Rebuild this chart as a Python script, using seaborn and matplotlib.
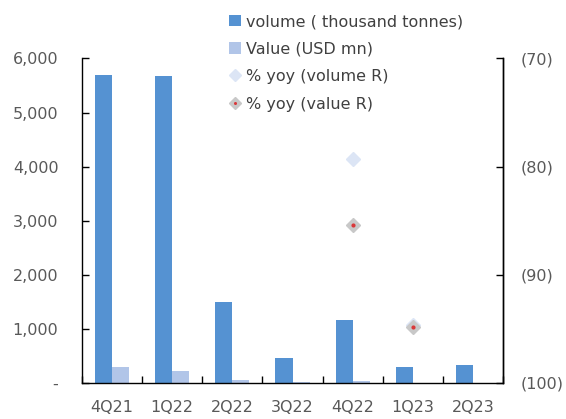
import numpy as np
import pandas as pd
import matplotlib
matplotlib.use("Agg")
import matplotlib.pyplot as plt
import matplotlib.ticker as mticker
from matplotlib.lines import Line2D
from matplotlib.patches import Patch
from matplotlib.legend_handler import HandlerTuple
import seaborn as sns

# Quarterly volume / value with year-on-year change
quarters = ["4Q21", "1Q22", "2Q22", "3Q22", "4Q22", "1Q23", "2Q23"]
volume = [5700, 5670, 1500, 455, 1167, 300, 330]          # thousand tonnes
value = [300, 222, 55, 15, 35, 3, 2]                      # USD mn
yoy_volume = [np.nan, np.nan, np.nan, np.nan, -79.3, -94.6, np.nan]
yoy_value = [np.nan, np.nan, np.nan, np.nan, -85.4, -94.8, np.nan]

lbl_vol = "volume ( thousand tonnes)"
lbl_val = "Value (USD mn)"
lbl_yoy_vol = "% yoy (volume R)"
lbl_yoy_val = "% yoy (value R)"

c_vol = "#5592D2"
c_val = "#B1C5E8"
c_yoy_vol = "#DCE5F5"
c_yoy_val_edge = "#C8C8C8"
c_yoy_val_dot = "#D9383A"
c_text = "#595959"

sns.set_theme(style="white")
plt.rcParams["font.family"] = ["DejaVu Sans"]
plt.rcParams["font.size"] = 11.5

df = pd.DataFrame({
    "quarter": quarters * 2,
    "amount": volume + value,
    "series": [lbl_vol] * len(quarters) + [lbl_val] * len(quarters),
})

fig = plt.figure(figsize=(5.66, 4.19), dpi=100)
ax = fig.add_axes([82 / 566, 1 - 383 / 419, (503 - 82) / 566, (383 - 58.5) / 419])

sns.barplot(data=df, x="quarter", y="amount", hue="series", order=quarters,
            palette=[c_vol, c_val], width=0.567, gap=0, saturation=1,
            linewidth=0, ax=ax, legend=False)

ax.set_xlim(-0.5, len(quarters) - 0.5)
ax.set_ylim(0, 6000)
ax.set_yticks(np.arange(0, 6001, 1000))
ax.yaxis.set_major_formatter(mticker.FuncFormatter(
    lambda v, p: "-" if v == 0 else f"{v:,.0f}"))
ax.set_xlabel("")
ax.set_ylabel("")

# category boundary ticks on the x axis
ax.set_xticks(np.arange(len(quarters)))
ax.set_xticklabels(quarters)
ax.set_xticks(np.arange(-0.5, len(quarters) + 0.5, 1), minor=True)
ax.tick_params(axis="x", which="major", length=0, pad=12.5, colors=c_text, labelsize=11.5)
ax.tick_params(axis="x", which="minor", direction="in", length=5, width=1,
               color="black", bottom=True)
ax.tick_params(axis="y", which="major", direction="in", length=5, width=1,
               color="black", pad=17, labelcolor=c_text, labelsize=11.5,
               left=True, right=False)

for s in ["left", "bottom", "right"]:
    ax.spines[s].set_visible(True)
    ax.spines[s].set_color("black")
    ax.spines[s].set_linewidth(1)
ax.spines["top"].set_visible(False)

ax2 = ax.twinx()
xpos = np.arange(len(quarters))
ax2.plot(xpos, yoy_volume, linestyle="none", marker="D", markersize=7.5,
         markerfacecolor=c_yoy_vol, markeredgecolor=c_yoy_vol)
ax2.plot(xpos, yoy_value, linestyle="none", marker="D", markersize=7,
         markerfacecolor=c_yoy_val_edge, markeredgecolor=c_yoy_val_edge)
ax2.plot(xpos, yoy_value, linestyle="none", marker="o", markersize=3,
         markerfacecolor=c_yoy_val_dot, markeredgecolor="none")
ax2.set_ylim(-100, -70)
ax2.set_yticks([-100, -90, -80, -70])
ax2.yaxis.set_major_formatter(mticker.FuncFormatter(lambda v, p: f"({abs(v):.0f})"))
ax2.tick_params(axis="y", which="major", direction="in", length=5, width=1,
                color="black", pad=13, labelcolor=c_text, labelsize=11.5,
                right=True, left=False)
for s in ["top", "left", "bottom"]:
    ax2.spines[s].set_visible(False)
ax2.spines["right"].set_color("black")
ax2.spines["right"].set_linewidth(1)
ax2.grid(False)
ax.grid(False)

handles = [
    Patch(facecolor=c_vol, edgecolor="none"),
    Patch(facecolor=c_val, edgecolor="none"),
    Line2D([], [], linestyle="none", marker="D", markersize=6,
           markerfacecolor=c_yoy_vol, markeredgecolor=c_yoy_vol),
    (Line2D([], [], linestyle="none", marker="D", markersize=6,
            markerfacecolor=c_yoy_val_edge, markeredgecolor=c_yoy_val_edge),
     Line2D([], [], linestyle="none", marker="o", markersize=2.2,
            markerfacecolor=c_yoy_val_dot, markeredgecolor="none")),
]
leg = fig.legend(handles, [lbl_vol, lbl_val, lbl_yoy_vol, lbl_yoy_val],
                 loc="upper left", bbox_to_anchor=(226 / 566, 1 - 11 / 419),
                 frameon=False, handlelength=0.75, handleheight=0.75,
                 handletextpad=0.3, labelspacing=0.78, fontsize=11.5,
                 borderaxespad=0, borderpad=0.2,
                 handler_map={tuple: HandlerTuple(ndivide=1, pad=0)})
for t in leg.get_texts():
    t.set_color("#404040")

fig.savefig("out.png", dpi=100)
